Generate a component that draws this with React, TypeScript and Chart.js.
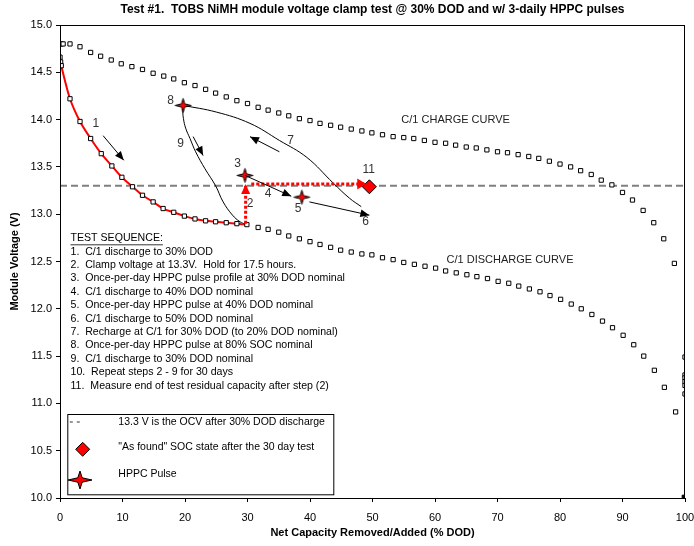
import React, { useEffect, useRef } from 'react';
import { Chart, registerables } from 'chart.js';

Chart.register(...registerables);

const FONT = '"Liberation Sans", Arial, Helvetica, sans-serif';

const chartTitle = 'Test #1.  TOBS NiMH module voltage clamp test @ 30% DOD and w/ 3-daily HPPC pulses';
const xAxisTitle = 'Net Capacity Removed/Added (% DOD)';
const yAxisTitle = 'Module Voltage (V)';

// C/1 charge curve (% DOD, V)
const chargeDOD = [0.2, 0.5, 1.6, 3.2, 4.9, 6.5, 8.2, 9.8, 11.5, 13.2, 14.9, 16.6, 18.2, 19.9, 21.6, 23.3, 24.9, 26.6, 28.3, 30.0,
  31.7, 33.3, 35.0, 36.6, 38.3, 40.0, 41.6, 43.3, 44.9, 46.6, 48.3, 49.9, 51.6, 53.3, 55.0, 56.6, 58.3, 60.0, 61.7, 63.3,
  65.0, 66.6, 68.3, 70.0, 71.6, 73.3, 75.0, 76.6, 78.3, 80.0, 81.7, 83.3, 85.0, 86.6, 88.3, 90.0, 91.6, 93.3, 95.0, 96.6, 98.3];
const chargeV = [14.80, 14.80, 14.80, 14.77, 14.71, 14.67, 14.63, 14.59, 14.56, 14.53, 14.49, 14.46, 14.43, 14.39, 14.36, 14.32, 14.28, 14.24, 14.20, 14.17,
  14.13, 14.10, 14.07, 14.04, 14.01, 13.99, 13.96, 13.94, 13.92, 13.90, 13.88, 13.86, 13.84, 13.82, 13.81, 13.80, 13.78, 13.76, 13.75, 13.73,
  13.71, 13.70, 13.68, 13.66, 13.65, 13.63, 13.61, 13.59, 13.56, 13.53, 13.50, 13.46, 13.42, 13.36, 13.31, 13.23, 13.15, 13.04, 12.91, 12.74, 12.48];

// C/1 discharge to 30% DOD (step 1, red line)
const step1DOD = [0, 0.1, 0.2, 1.6, 3.2, 4.9, 6.6, 8.3, 9.9, 11.6, 13.2, 14.9, 16.5, 18.2, 19.9, 21.6, 23.3, 24.9, 26.6, 28.3, 29.9];
const step1V = [14.66, 14.61, 14.57, 14.22, 13.98, 13.80, 13.64, 13.51, 13.39, 13.29, 13.20, 13.13, 13.06, 13.02, 12.98, 12.95, 12.93, 12.92, 12.91, 12.90, 12.89];

// C/1 discharge curve beyond 30% DOD
const dischargeDOD = [31.7, 33.3, 35.0, 36.6, 38.3, 40.0, 41.6, 43.3, 44.9, 46.6, 48.3, 49.9, 51.6, 53.3, 55.0, 56.7, 58.4, 60.1, 61.7, 63.4,
  65.1, 66.7, 68.4, 70.1, 71.8, 73.4, 75.1, 76.8, 78.4, 80.1, 81.8, 83.4, 85.1, 86.8, 88.4, 90.1, 91.8, 93.4, 95.1, 96.7, 98.5,
  100, 100, 100, 100, 100, 100];
const dischargeV = [12.86, 12.84, 12.81, 12.77, 12.74, 12.71, 12.68, 12.65, 12.62, 12.60, 12.58, 12.57, 12.54, 12.52, 12.49, 12.47, 12.45, 12.43, 12.40, 12.38,
  12.36, 12.34, 12.32, 12.29, 12.27, 12.24, 12.21, 12.18, 12.14, 12.10, 12.05, 12.00, 11.94, 11.87, 11.80, 11.72, 11.62, 11.50, 11.35, 11.17, 10.91,
  11.49, 11.30, 11.27, 11.23, 11.19, 11.10];
const endDOD = [100];
const endV = [10.0];

// HPPC pulses (steps 8, 3, 5)
const hppcDOD = [19.7, 29.6, 38.7];
const hppcV = [14.15, 13.41, 13.18];

// "As found" SOC after 30 day test
const asFoundDOD = [49.5];
const asFoundV = [13.29];

// 13.3 V OCV line
const ocvDOD = [0, 100];
const ocvV = [13.3, 13.3];

// Step 7 recharge path and step 9 discharge path
const step7DOD = [19.7, 25.0, 30.4, 35.1, 39.5, 43.7, 46.3, 48.2];
const step7V = [14.15, 14.08, 13.96, 13.78, 13.60, 13.33, 13.17, 13.08];
const step9DOD = [19.7, 19.65, 19.75, 20.1, 20.8, 21.7, 23.2, 24.9, 26.1, 27.6, 28.8, 29.8];
const step9V = [14.15, 14.08, 14.01, 13.91, 13.80, 13.66, 13.48, 13.30, 13.13, 12.99, 12.92, 12.89];

// Red dotted steps: step 2 (clamp) and step 11 (residual)
const step2DOD = [29.7, 29.7];
const step2V = [12.90, 13.32];
const step11DOD = [30.6, 49.0];
const step11V = [13.32, 13.32];

// Black arrows
const arrowFromDOD = [6.9, 21.3, 35.1, 29.6, 39.9];
const arrowFromV = [13.83, 13.82, 13.66, 13.41, 13.13];
const arrowToDOD = [10.2, 22.9, 30.4, 37.0, 49.5];
const arrowToV = [13.57, 13.62, 13.82, 13.19, 12.99];

// Step number labels
const stepLabels = ['1', '9', '8', '3', '4', '2', '5', '6', '7', '11'];
const stepLabelDOD = [5.75, 19.3, 17.7, 28.4, 33.3, 30.4, 38.1, 48.9, 36.9, 49.4];
const stepLabelV = [13.96, 13.75, 14.20, 13.53, 13.22, 13.11, 13.06, 12.92, 13.78, 13.47];

const curveLabels = ['C/1 CHARGE CURVE', 'C/1 DISCHARGE CURVE'];
const curveLabelDOD = [63.3, 72.0];
const curveLabelV = [14.0, 12.52];

const sequenceHeader = 'TEST SEQUENCE:';
const sequenceLines = [
  '1.  C/1 discharge to 30% DOD',
  '2.  Clamp voltage at 13.3V.  Hold for 17.5 hours.',
  '3.  Once-per-day HPPC pulse profile at 30% DOD nominal',
  '4.  C/1 discharge to 40% DOD nominal',
  '5.  Once-per-day HPPC pulse at 40% DOD nominal',
  '6.  C/1 discharge to 50% DOD nominal',
  '7.  Recharge at C/1 for 30% DOD (to 20% DOD nominal)',
  '8.  Once-per-day HPPC pulse at 80% SOC nominal',
  '9.  C/1 discharge to 30% DOD nominal',
  '10.  Repeat steps 2 - 9 for 30 days',
  '11.  Measure end of test residual capacity after step (2)',
];

const legendLabels = ['13.3 V is the OCV after 30% DOD discharge', '"As found" SOC state after the 30 day test', 'HPPC Pulse'];

const xTickValues = [0, 10, 20, 30, 40, 50, 60, 70, 80, 90, 100];
const yTickValues = [10.0, 10.5, 11.0, 11.5, 12.0, 12.5, 13.0, 13.5, 14.0, 14.5, 15.0];

const pts = (xs: number[], ys: number[]) => xs.map((x, i) => ({ x, y: ys[i] }));

function drawStar(ctx: CanvasRenderingContext2D, cx: number, cy: number, w: number, h: number, k: number) {
  ctx.beginPath();
  ctx.moveTo(cx - w, cy);
  ctx.lineTo(cx - k, cy - k);
  ctx.lineTo(cx, cy - h);
  ctx.lineTo(cx + k, cy - k);
  ctx.lineTo(cx + w, cy);
  ctx.lineTo(cx + k, cy + k);
  ctx.lineTo(cx, cy + h);
  ctx.lineTo(cx - k, cy + k);
  ctx.closePath();
  ctx.fillStyle = '#ff0000';
  ctx.fill();
  ctx.strokeStyle = '#000';
  ctx.lineWidth = 1;
  ctx.stroke();
}

function makeStarCanvas(w: number, h: number, k: number) {
  const c = document.createElement('canvas');
  c.width = Math.ceil(2 * w + 3);
  c.height = Math.ceil(2 * h + 3);
  const ctx = c.getContext('2d')!;
  drawStar(ctx, c.width / 2, c.height / 2, w, h, k);
  return c;
}

function arrowHead(ctx: CanvasRenderingContext2D, x0: number, y0: number, x1: number, y1: number, len: number, hw: number, color: string) {
  const a = Math.atan2(y1 - y0, x1 - x0);
  const bx = x1 - len * Math.cos(a);
  const by = y1 - len * Math.sin(a);
  ctx.beginPath();
  ctx.moveTo(x1, y1);
  ctx.lineTo(bx + hw * Math.sin(a), by - hw * Math.cos(a));
  ctx.lineTo(bx - hw * Math.sin(a), by + hw * Math.cos(a));
  ctx.closePath();
  ctx.fillStyle = color;
  ctx.fill();
}

const annotations = {
  id: 'annotations',
  afterDatasetsDraw(chart: any) {
    const { ctx, chartArea } = chart;
    const xs = chart.scales.x;
    const ys = chart.scales.y;
    const px = (v: number) => xs.getPixelForValue(v);
    const py = (v: number) => ys.getPixelForValue(v);
    ctx.save();

    // border box
    ctx.strokeStyle = '#000';
    ctx.lineWidth = 1;
    ctx.strokeRect(chartArea.left + 0.5, chartArea.top + 0.5, chartArea.right - chartArea.left - 1, chartArea.bottom - chartArea.top);

    // black arrows
    ctx.strokeStyle = '#000';
    ctx.lineWidth = 1;
    for (let i = 0; i < arrowFromDOD.length; i++) {
      const x0 = px(arrowFromDOD[i]), y0 = py(arrowFromV[i]);
      const x1 = px(arrowToDOD[i]), y1 = py(arrowToV[i]);
      ctx.beginPath();
      ctx.moveTo(x0, y0);
      ctx.lineTo(x1, y1);
      ctx.stroke();
      arrowHead(ctx, x0, y0, x1, y1, 9, 3.8, '#000');
    }

    // red arrow heads on dotted steps
    arrowHead(ctx, px(step2DOD[0]), py(step2V[0]), px(step2DOD[1]), py(step2V[1]), 10, 4.5, '#ff0000');
    arrowHead(ctx, px(step11DOD[0]), py(step11V[0]), px(step11DOD[1]), py(step11V[1]), 9, 5.5, '#ff0000');

    // step labels
    ctx.fillStyle = '#333';
    ctx.font = `12px ${FONT}`;
    ctx.textAlign = 'center';
    ctx.textBaseline = 'middle';
    stepLabels.forEach((t, i) => ctx.fillText(t, px(stepLabelDOD[i]), py(stepLabelV[i])));

    // curve labels
    ctx.font = `11px ${FONT}`;
    ctx.fillStyle = '#222';
    curveLabels.forEach((t, i) => ctx.fillText(t, px(curveLabelDOD[i]), py(curveLabelV[i])));

    // test sequence text
    const tx = chartArea.left + 10.5;
    ctx.textAlign = 'left';
    ctx.fillStyle = '#000';
    ctx.font = `10.6px ${FONT}`;
    const hy = chartArea.top + 213.3;
    ctx.fillText(sequenceHeader, tx, hy);
    const hw = ctx.measureText(sequenceHeader).width;
    ctx.beginPath();
    ctx.moveTo(tx, hy + 6.5);
    ctx.lineTo(tx + hw, hy + 6.5);
    ctx.lineWidth = 0.8;
    ctx.strokeStyle = '#000';
    ctx.stroke();
    sequenceLines.forEach((t, i) => ctx.fillText(t, tx, hy + 13.4 * (i + 1)));

    // legend box
    const lx = chartArea.left + 7.3;
    const ly = chartArea.top + 389;
    const lw = 266;
    const lh = 80.3;
    ctx.fillStyle = '#fff';
    ctx.fillRect(lx, ly, lw, lh);
    ctx.strokeStyle = '#000';
    ctx.lineWidth = 1;
    ctx.strokeRect(lx + 0.5, ly + 0.5, lw, lh);
    // dash symbol
    ctx.beginPath();
    ctx.moveTo(lx + 2.5, ly + 8);
    ctx.lineTo(lx + 5.5, ly + 8);
    ctx.moveTo(lx + 9.5, ly + 8);
    ctx.lineTo(lx + 12.5, ly + 8);
    ctx.strokeStyle = '#333';
    ctx.stroke();
    // diamond symbol
    const dx = lx + 15.4, dy = ly + 35.3, dr = 7;
    ctx.beginPath();
    ctx.moveTo(dx - dr, dy);
    ctx.lineTo(dx, dy - dr);
    ctx.lineTo(dx + dr, dy);
    ctx.lineTo(dx, dy + dr);
    ctx.closePath();
    ctx.fillStyle = '#ff0000';
    ctx.fill();
    ctx.strokeStyle = '#000';
    ctx.stroke();
    // star symbol
    drawStar(ctx, lx + 12.7, ly + 66, 12, 9, 2.2);
    ctx.fillStyle = '#000';
    ctx.font = `10.5px ${FONT}`;
    ctx.textAlign = 'left';
    ctx.fillText(legendLabels[0], lx + 51, ly + 7.7);
    ctx.fillText(legendLabels[1], lx + 51, ly + 32.7);
    ctx.fillText(legendLabels[2], lx + 51, ly + 60);

    // title
    ctx.font = `bold 12px ${FONT}`;
    ctx.textAlign = 'center';
    ctx.fillStyle = '#000';
    ctx.fillText(chartTitle, (chartArea.left + chartArea.right) / 2, 10);
    ctx.restore();
  },
};

export default function App() {
  const ref = useRef<HTMLCanvasElement>(null);
  useEffect(() => {
    if (!ref.current) return;
    const star = makeStarCanvas(8, 7, 1.6);
    const square = { pointStyle: 'rect', pointRadius: 3, pointHoverRadius: 3, pointBorderColor: '#000', pointBackgroundColor: '#fff', pointBorderWidth: 1 };
    const chart = new Chart(ref.current, {
      type: 'scatter',
      data: {
        datasets: [
          { label: 'HPPC Pulse', data: pts(hppcDOD, hppcV), pointStyle: star as any, pointRadius: 8, showLine: false },
          { label: 'As found', data: pts(asFoundDOD, asFoundV), pointStyle: 'rectRot', pointRadius: 7, pointBackgroundColor: '#ff0000', pointBorderColor: '#000', pointBorderWidth: 1, showLine: false },
          { label: 'Step 2', data: pts(step2DOD, step2V), showLine: true, borderColor: '#ff0000', borderWidth: 3, borderDash: [3, 2], pointRadius: 0 },
          { label: 'Step 11', data: pts(step11DOD, step11V), showLine: true, borderColor: '#ff0000', borderWidth: 3, borderDash: [3, 2], pointRadius: 0 },
          { label: 'Step 1', data: pts(step1DOD, step1V), showLine: true, borderColor: '#ff0000', borderWidth: 2, tension: 0.3, ...square },
          { label: 'Discharge', data: pts(dischargeDOD, dischargeV), showLine: false, ...square },
          { label: 'End', data: pts(endDOD, endV), showLine: false, pointStyle: 'rect', pointRadius: 4, pointBackgroundColor: '#000', pointBorderColor: '#000' },
          { label: 'Charge', data: pts(chargeDOD, chargeV), showLine: false, ...square },
          { label: 'Step 7', data: pts(step7DOD, step7V), showLine: true, borderColor: '#000', borderWidth: 1, tension: 0.4, pointRadius: 0 },
          { label: 'Step 9', data: pts(step9DOD, step9V), showLine: true, borderColor: '#000', borderWidth: 1, tension: 0.4, pointRadius: 0 },
          { label: 'OCV', data: pts(ocvDOD, ocvV), showLine: true, borderColor: '#808080', borderWidth: 2, borderDash: [7, 4], pointRadius: 0 },
        ],
      } as any,
      options: {
        animation: false,
        responsive: false,
        events: [],
        layout: { padding: { top: 25, left: 0, right: 8, bottom: 0 } },
        plugins: { legend: { display: false }, title: { display: false }, tooltip: { enabled: false } },
        scales: {
          x: {
            type: 'linear',
            min: 0,
            max: 100,
            afterBuildTicks: (s: any) => { s.ticks = xTickValues.map((v) => ({ value: v })); },
            afterFit: (s: any) => { s.height = 48; s.paddingRight = 0; s.paddingLeft = 0; },
            ticks: { color: '#000', font: { family: FONT, size: 11 }, padding: 9, maxRotation: 0, autoSkip: false },
            grid: { display: true, drawOnChartArea: false, drawTicks: true, tickLength: 4, color: '#000' },
            border: { display: true, color: '#000', width: 1 },
            title: { display: true, text: xAxisTitle, color: '#000', font: { family: FONT, size: 11, weight: 'bold' }, padding: { top: 0, bottom: 6 } },
          },
          y: {
            type: 'linear',
            min: 10,
            max: 15,
            afterBuildTicks: (s: any) => { s.ticks = yTickValues.map((v) => ({ value: v })); },
            afterFit: (s: any) => { s.width = 60; s.paddingTop = 0; s.paddingBottom = 0; },
            ticks: { color: '#000', font: { family: FONT, size: 11 }, padding: 4, callback: (v: any) => Number(v).toFixed(1) },
            grid: { display: true, drawOnChartArea: false, drawTicks: true, tickLength: 4, color: '#000' },
            border: { display: true, color: '#000', width: 1 },
            title: { display: true, text: yAxisTitle, color: '#000', font: { family: FONT, size: 11, weight: 'bold' }, padding: { top: 8, bottom: 0 } },
          },
        },
      } as any,
      plugins: [annotations],
    });
    return () => chart.destroy();
  }, []);
  return (
    <div style={{ position: 'fixed', left: 0, top: 0, width: 694, height: 546, background: '#fff' }}>
      <canvas ref={ref} width={694} height={546} style={{ display: 'block' }} />
    </div>
  );
}
